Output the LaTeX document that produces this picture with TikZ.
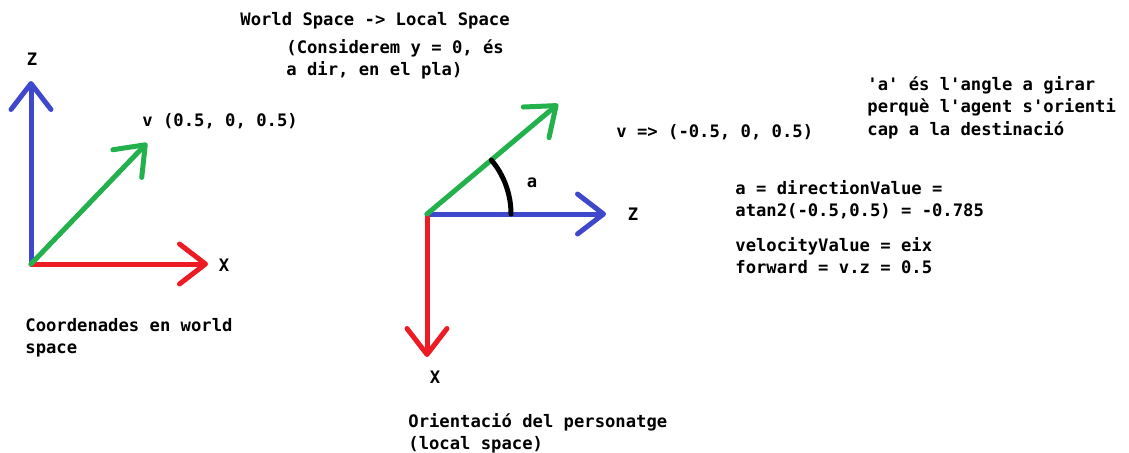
\documentclass[tikz,border=0pt]{standalone}
\usepackage{fontspec}
\setmonofont{DejaVu Sans Mono}
\usetikzlibrary{arrows.meta}
\definecolor{axisz}{HTML}{3F48CC}
\definecolor{axisx}{HTML}{ED1C24}
\definecolor{vecv}{HTML}{22B14C}
\tikzset{
  axis/.style  = {line width=2.5pt, line cap=round,
                  -{Straight Barb[length=13pt, width=20pt, round]}},
  txt/.style   = {font=\fontsize{8.6}{11.25}\selectfont\ttfamily\bfseries,
                  inner sep=0pt, align=left, anchor=base west},
  axlbl/.style = {font=\fontsize{8.6}{11.25}\selectfont\ttfamily\bfseries, inner sep=0pt},
}
\begin{document}
\begin{tikzpicture}[x=0.5pt, y=0.5pt]
  \useasboundingbox (0,0) rectangle (1129,-452);
  % world space axes
  \coordinate (o1) at (31,-264);
  \coordinate (z1) at (31,-81);
  \coordinate (x1) at (208,-264);
  \coordinate (v1) at (147,-143);
  \draw[axis, axisz] (o1) -- (z1);
  \draw[axis, axisx] (o1) -- (x1);
  \draw[axis, vecv] (o1) -- (v1);
  \node[axlbl] (lz1) at (32,-59) {Z};
  \node[axlbl] (lx1) at (224,-265) {X};
  \node[txt] (lv1) at (142,-126) {v (0.5, 0, 0.5)};
  \node[txt] (cap1) at (25,-353.5) {Coordenades en world\\space};
  % local space axes
  \coordinate (o2) at (427,-214);
  \coordinate (z2) at (606,-214);
  \coordinate (x2) at (427,-357);
  \coordinate (v2) at (558,-104);
  \draw[axis, axisz] (o2) -- (z2);
  \draw[axis, axisx] (o2) -- (x2);
  \draw[axis, vecv] (o2) -- (v2);
  \draw[line width=2.5pt, line cap=round] (o2) ++(84,0) arc[start angle=0, end angle=40, radius=84];
  \node[axlbl] (lz2) at (633,-214) {Z};
  \node[axlbl] (lx2) at (435,-377) {X};
  \node[axlbl] (la) at (532,-183) {a};
  \node[txt] (lv2) at (616,-137) {v => (-0.5, 0, 0.5)};
  \node[txt] (cap2) at (408,-449.5) {Orientació del personatge\\(local space)};
  % notes
  \node[txt] (title) at (240,-25) {World Space -> Local Space};
  \node[txt] (hint) at (286,-75.5) {(Considerem y = 0, és\\a dir, en el pla)};
  \node[txt] (angle) at (867,-135) {'a' és l'angle a girar\\perquè l'agent s'orienti\\cap a la destinació};
  \node[txt] (dir) at (735,-216.5) {a = directionValue =\\atan2(-0.5,0.5) = -0.785};
  \node[txt] (vel) at (735,-273.5) {velocityValue = eix\\forward = v.z = 0.5};
\end{tikzpicture}
\end{document}
